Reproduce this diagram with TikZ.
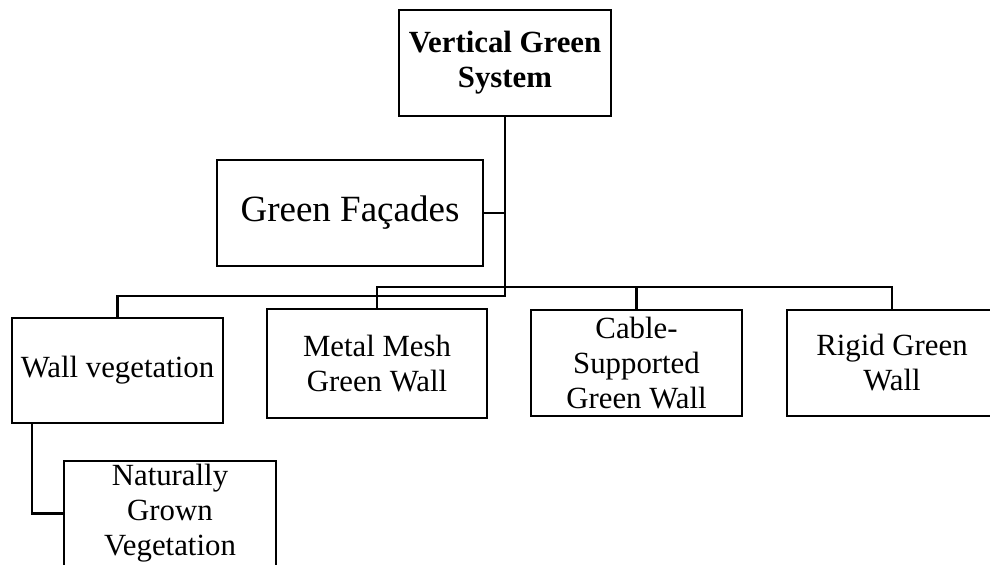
\documentclass[tikz,border=0pt]{standalone}
\usepackage{fontspec}
\setmainfont{Liberation Serif}
\usetikzlibrary{positioning}

\begin{document}
\begin{tikzpicture}[
        x=0.5pt, y=-0.5pt,
        box/.style={rectangle, draw=black, line width=1.1pt, inner sep=0pt, align=center, font=\fontsize{15.4}{17.5}\selectfont},
        link/.style={draw=black, line width=1.1pt}
    ]
        \useasboundingbox (0,0) rectangle (990,565);

        % Root
        \node[box, minimum width=106pt, minimum height=53pt, font=\fontsize{15.4}{17.5}\selectfont\bfseries] (vgs) at (505,63) {Vertical Green\\System};

        % Facades
        \node[box, minimum width=133pt, minimum height=53pt, font=\fontsize{18.5}{20}\selectfont] (facades) at (350,213) {Green Façades};

        % Wall types
        \node[box, minimum width=105.5pt, minimum height=52.5pt] (wallveg) at (117.5,370.5) {Wall vegetation};
        \node[box, minimum width=110pt, minimum height=54.5pt] (metal) at (377,363.5) {Metal Mesh\\Green Wall};
        \node[box, minimum width=105.5pt, minimum height=53pt] (cable) at (636.5,363) {Cable-\\Supported\\Green Wall};
        \node[box, minimum width=105pt, minimum height=53pt] (rigid) at (892,363) {Rigid Green\\Wall};

        % Sub type
        \node[box, minimum width=106pt, minimum height=52.5pt] (natural) at (170,513.5) {Naturally\\Grown\\Vegetation};

        % Trunk and buses
        \coordinate (split) at (505,296);
        \coordinate (bus) at (505,287);
        \draw[link] (vgs.south) -- (split) -| (wallveg.north);
        \draw[link] (facades.east) -- (facades.east -| vgs.south);
        \draw[link] (metal.north) |- (bus) -| (rigid.north);
        \draw[link] (cable.north) -- (cable.north |- bus);
        \draw[link] ([xshift=10.5pt]wallveg.south west) |- (natural.west);
    \end{tikzpicture}
\end{document}
